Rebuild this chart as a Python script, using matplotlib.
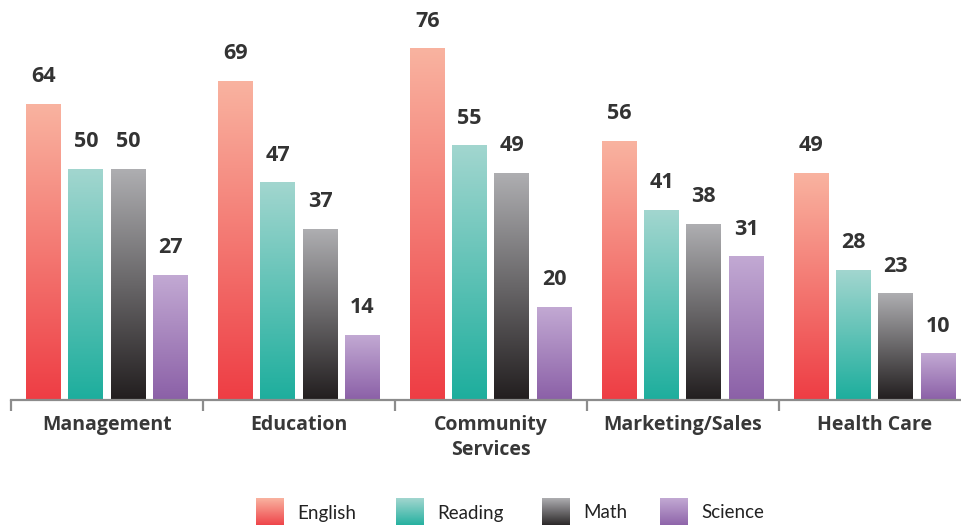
import numpy as np
import matplotlib
matplotlib.use('Agg')
import matplotlib.pyplot as plt
from matplotlib.colors import LinearSegmentedColormap

# ── Data ───────────────────────────────────────────────────────────────────────
categories = ['Management', 'Education', 'Community\nServices', 'Marketing/Sales', 'Health Care']
series = ['English', 'Reading', 'Math', 'Science']
english = [64, 69, 76, 56, 49]
reading = [50, 47, 55, 41, 28]
math_ = [50, 37, 49, 38, 23]
science = [27, 14, 20, 31, 10]
values = [english, reading, math_, science]

# top (light) -> bottom (saturated)
grads = {
    'English': ('#F9B3A0', '#EE3D44'),
    'Reading': ('#A2D6CF', '#1DAE9D'),
    'Math':    ('#AEAEB1', '#221E1F'),
    'Science': ('#C2A9D3', '#8B60A7'),
}

plt.rcParams['font.family'] = ['Lato', 'DejaVu Sans']
BOLD = ['Open Sans', 'DejaVu Sans']
TXT = '#333333'

fig = plt.figure(figsize=(9.61, 5.25), dpi=100)
ax = fig.add_axes([11 / 961, 125 / 525, 950 / 961, 400 / 525])

x = np.arange(len(categories))
step, width = 0.22, 0.182
gv = np.linspace(0, 1, 256).reshape(-1, 1)

for i, (name, vals) in enumerate(zip(series, values)):
    cmap = LinearSegmentedColormap.from_list(name, [grads[name][1], grads[name][0]])
    bars = ax.bar(x + (i - 1.5) * step, vals, width, color='none', edgecolor='none')
    for b, v in zip(bars, vals):
        x0, w, h = b.get_x(), b.get_width(), b.get_height()
        ax.imshow(gv, cmap=cmap, extent=[x0, x0 + w, 0, h], origin='lower',
                  aspect='auto', zorder=2, interpolation='bicubic')
        ax.text(x0 + w / 2, h + 6.0, str(v), ha='center', va='center',
                fontsize=15.5, fontweight='bold', family=BOLD, color=TXT)

ax.set_xlim(-0.5, 4.45)
ax.set_ylim(0, 86.6)
ax.set_aspect('auto')

for s in ['top', 'left', 'right']:
    ax.spines[s].set_visible(False)
ax.spines['bottom'].set_color('#8c8c8c')
ax.spines['bottom'].set_linewidth(1.6)
ax.set_yticks([])
ax.set_xticks(x)
ax.set_xticklabels(categories, fontsize=14, fontweight='bold', family=BOLD, color='#383838')
for lab in ax.get_xticklabels():
    lab.set_linespacing(1.35)
ax.tick_params(axis='x', which='major', length=0, pad=10.5)
ax.set_xticks(np.arange(-0.5, 4.5, 1), minor=True)
ax.tick_params(axis='x', which='minor', length=8, width=1.6, color='#8c8c8c')

# ── Legend ─────────────────────────────────────────────────────────────────────
lax = fig.add_axes([0, 0, 1, 1], zorder=-1)
lax.axis('off')
leg_x = [256, 396, 542, 660]
for name, lx in zip(series, leg_x):
    cmap = LinearSegmentedColormap.from_list(name + 'l', [grads[name][0], grads[name][1]])
    lax.imshow(gv, cmap=cmap, extent=[lx, lx + 28, 527, 498],
               aspect='auto', interpolation='bicubic')
    lax.text(lx + 41, 513, name, ha='left', va='center', fontsize=13.5, color='#222222')
lax.set_xlim(0, 961)
lax.set_ylim(525, 0)

fig.savefig('out.png', dpi=100)
